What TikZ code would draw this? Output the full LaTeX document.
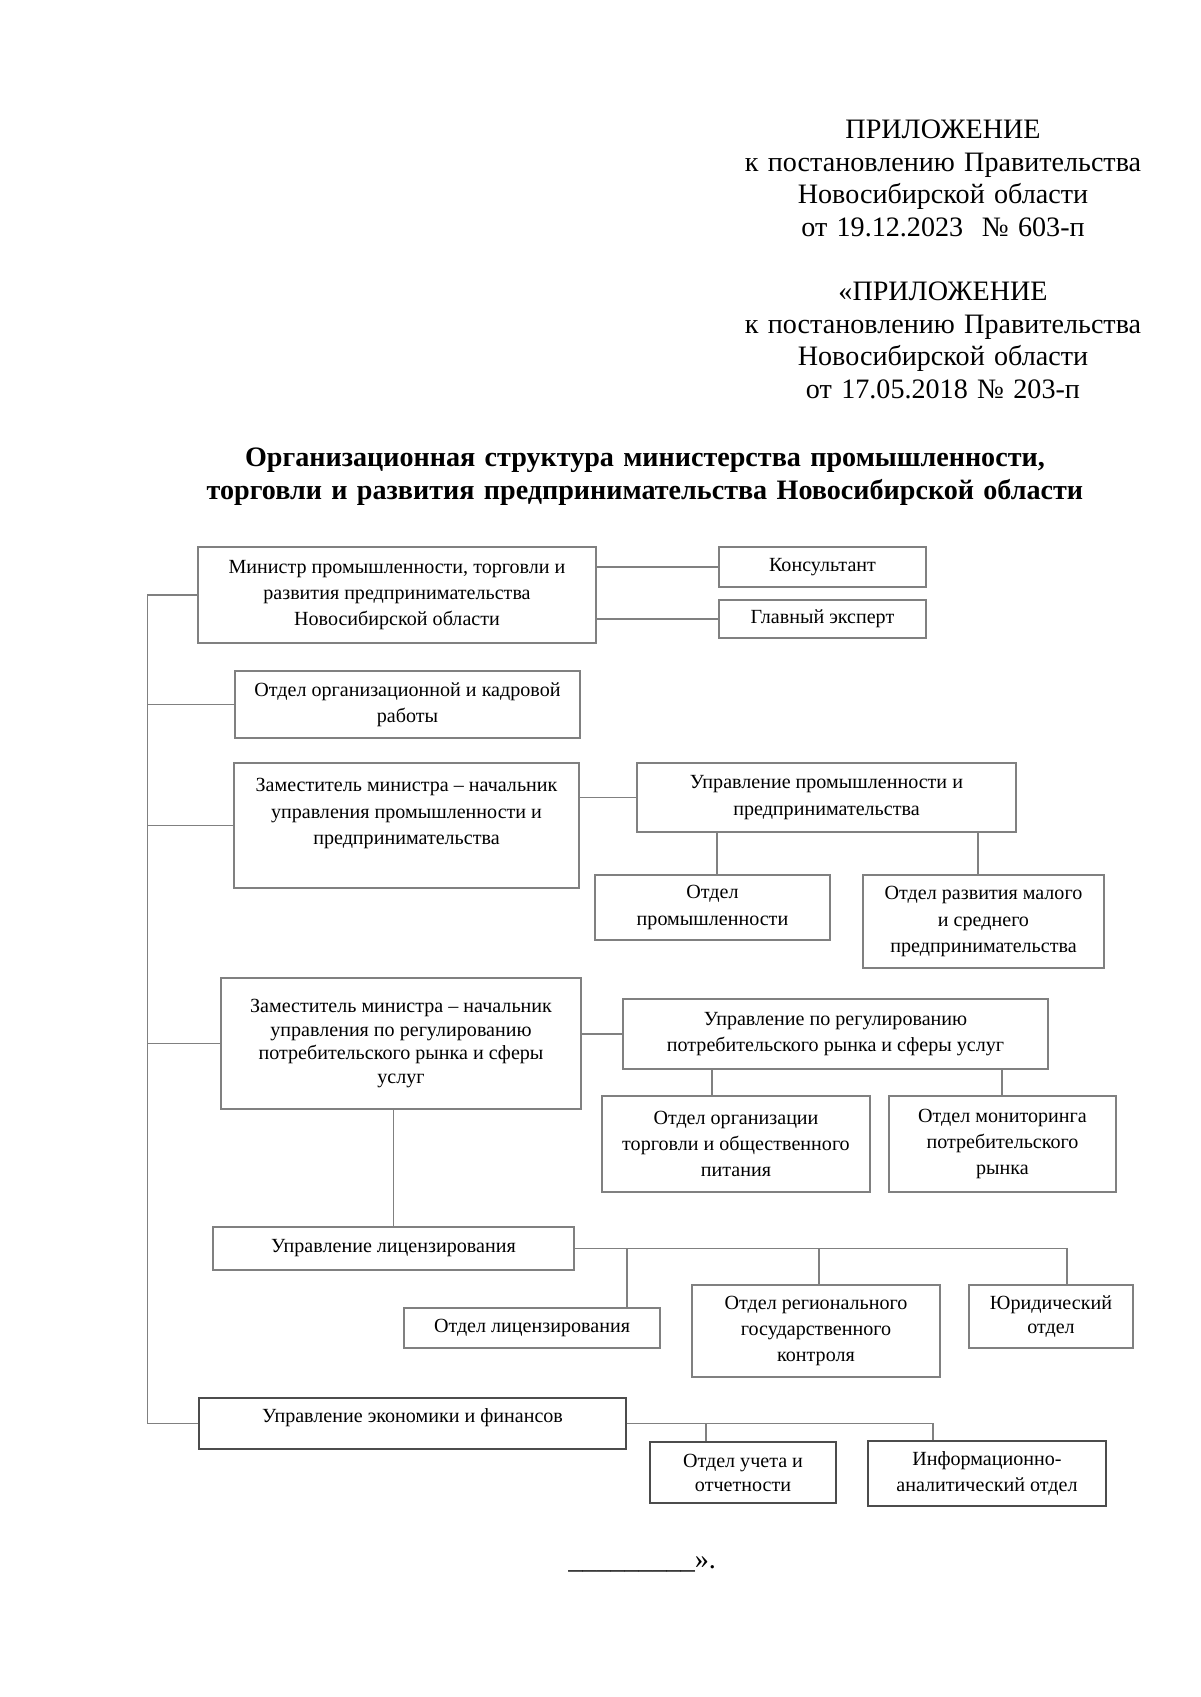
\documentclass[tikz,border=0pt]{standalone}
\usepackage{fontspec}
\setmainfont{Liberation Serif}
\usepackage{tikz}
\usetikzlibrary{positioning}
\tikzset{box/.style={draw=black!50,line width=0.6pt,inner sep=0pt,align=center,font=\fontsize{10}{13}\selectfont}}
\tikzset{area/.style n args={4}{minimum width={(#3-#1)*0.175mm},minimum height={(#4-#2)*0.175mm},at={({(#1+#3)/2},{(#2+#4)/2})}}}
\tikzset{tight/.style={font=\fontsize{10}{11.9}\selectfont},dark/.style={draw=black!70}}
\tikzset{link/.style={draw=black!50,line width=0.6pt}}

\begin{document}
\begin{tikzpicture}[x=0.175mm,y=-0.175mm]
    \fill[white] (0,0) rectangle (1200,1697);
    \useasboundingbox (0,0) rectangle (1200,1697);
    \node[anchor=base,text width=90mm,align=center,font=\fontsize{14}{16.13}\selectfont] (appendix) at (943,139)
        {ПРИЛОЖЕНИЕ\\ к постановлению Правительства\\ Новосибирской области\\ от 19.12.2023\ \ № 603-п\\[16.13pt]
         «ПРИЛОЖЕНИЕ\\ к постановлению Правительства\\ Новосибирской области\\ от 17.05.2018 № 203-п};
    \node[anchor=base,text width=190mm,align=center,font=\bfseries\fontsize{14}{16.5}\selectfont] (title) at (645,466)
        {Организационная структура министерства промышленности,\\ торговли и развития предпринимательства Новосибирской области};

    \node[box,area={198}{547}{596}{643}] (minister) {Министр промышленности, торговли и\\ развития предпринимательства\\ Новосибирской области};
    \node[box,area={719}{547}{926}{587}] (konsult) {Консультант};
    \node[box,area={719}{600}{926}{638}] (expert) {Главный эксперт};
    \node[box,area={235}{671}{580}{738}] (kadry) {Отдел организационной и кадровой\\ работы};
    \node[box,area={234}{763}{579}{888},text depth=14pt] (zamprom) {Заместитель министра – начальник\\ управления промышленности и\\ предпринимательства};
    \node[box,area={637}{763}{1016}{832}] (uprprom) {Управление промышленности и\\ предпринимательства};
    \node[box,area={595}{875}{830}{940}] (otdprom) {Отдел\\ промышленности};
    \node[box,area={863}{875}{1104}{968}] (otdmsp) {Отдел развития малого\\ и среднего\\ предпринимательства};
    \node[box,tight,area={221}{978}{581}{1109}] (zamrynok) {Заместитель министра – начальник\\ управления по регулированию\\ потребительского рынка и сферы\\ услуг};
    \node[box,area={623}{999}{1048}{1069}] (uprrynok) {Управление по регулированию\\ потребительского рынка и сферы услуг};
    \node[box,area={602}{1096}{870}{1192}] (otdtorg) {Отдел организации\\ торговли и общественного\\ питания};
    \node[box,area={889}{1096}{1116}{1192}] (otdmonit) {Отдел мониторинга\\ потребительского\\ рынка};
    \node[box,area={213}{1227}{574}{1270}] (uprlic) {Управление лицензирования};
    \node[box,area={404}{1308}{660}{1348}] (otdlic) {Отдел лицензирования};
    \node[box,area={692}{1285}{940}{1377}] (otdkontr) {Отдел регионального\\ государственного\\ контроля};
    \node[box,tight,area={969}{1285}{1133}{1348}] (otdyur) {Юридический\\ отдел};
    \node[box,dark,area={199}{1398}{626}{1449},text depth=8pt] (uprfin) {Управление экономики и финансов};
    \node[box,dark,tight,area={650}{1442}{836}{1503}] (otduchet) {Отдел учета и\\ отчетности};
    \node[box,dark,area={868}{1441}{1106}{1506}] (otdinfo) {Информационно-\\ аналитический отдел};

    \node[anchor=base west,inner sep=0pt,font=\fontsize{14}{16}\selectfont] (closing) at (568,1568) {\_\_\_\_\_\_\_\_\_».};

    \coordinate (spine) at (147.5,595);
    \draw[link] (minister.west) -- (spine) |- (uprfin.west);
    \foreach \n in {kadry,zamprom,zamrynok}
        \draw[link] (\n.west) -- (\n.west -| spine);
    \draw[link] (konsult.west) -- (konsult.west -| minister.east);
    \draw[link] (expert.west) -- (expert.west -| minister.east);
    \draw[link] (uprprom.west) -- (uprprom.west -| zamprom.east);
    \draw[link] (uprprom.south -| 717,0) -- (otdprom.north -| 717,0);
    \draw[link] (uprprom.south -| 978,0) -- (otdmsp.north -| 978,0);
    \draw[link] (uprrynok.west) -- (uprrynok.west -| zamrynok.east);
    \draw[link] (uprrynok.south -| 712,0) -- (otdtorg.north -| 712,0);
    \draw[link] (uprrynok.south -| 1002,0) -- (otdmonit.north -| 1002,0);
    \draw[link] (uprlic.north) -- (uprlic.north |- zamrynok.south);
    \draw[link] (uprlic.east) -- (uprlic.east -| 1067,0) -- (otdyur.north -| 1067,0);
    \draw[link] (uprlic.east -| 627,0) -- (otdlic.north -| 627,0);
    \draw[link] (uprlic.east -| 819,0) -- (otdkontr.north -| 819,0);
    \draw[link] (uprfin.east) -- (uprfin.east -| 933,0) -- (otdinfo.north -| 933,0);
    \draw[link] (uprfin.east -| 706,0) -- (otduchet.north -| 706,0);
\end{tikzpicture}
\end{document}
